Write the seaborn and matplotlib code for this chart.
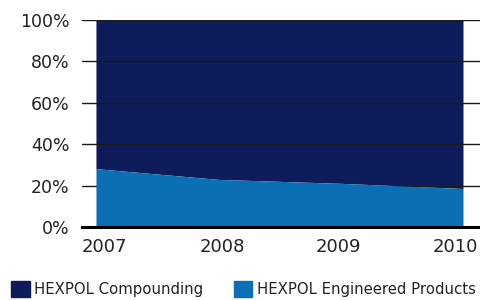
import numpy as np
import pandas as pd
import matplotlib
matplotlib.use("Agg")
import matplotlib.pyplot as plt
import matplotlib.patches as mpatches
from matplotlib.transforms import ScaledTranslation
import seaborn as sns

# Data (share of sales, %)
years = [2007, 2008, 2009, 2010]
engineered = [28.2, 23.0, 21.1, 18.6]
compounding = [100 - v for v in engineered]
series_names = ["HEXPOL Compounding", "HEXPOL Engineered Products"]
colors = ["#0e1c5b", "#0a6fb3"]

df = pd.DataFrame({"year": years, "Engineered": engineered, "Compounding": compounding})

sns.set_style("white")
plt.rcParams["font.family"] = ["DejaVu Sans"]

fig = plt.figure(figsize=(4.81, 3.0), dpi=100)
ax = fig.add_axes([82 / 481, 1 - 227 / 300, (480 - 82) / 481, (227 - 20) / 300])

polys = ax.stackplot(df["year"], df["Engineered"], df["Compounding"],
                     colors=[colors[1], colors[0]], linewidth=0)
# grid shows over the dark area but not over the light one
polys[1].set_zorder(1)
polys[0].set_zorder(3)

ax.set_xlim(2006.886, 2010.139)
ax.set_ylim(0, 100)
ax.set_yticks(np.arange(0, 101, 20))
ax.set_yticklabels([f"{v}%" for v in range(0, 101, 20)], fontsize=12.5, color="#222222")
ax.set_xticks(years)
ax.set_xticklabels([str(y) for y in years], fontsize=13, color="#222222")
ax.tick_params(axis="y", length=0, pad=9)
ax.tick_params(axis="x", length=0, pad=8)

# nudge year labels like in the original layout
for lab, dx in zip(ax.get_xticklabels(), [8, 4, -2, -8]):
    lab.set_transform(lab.get_transform() + ScaledTranslation(dx / 100, 0, fig.dpi_scale_trans))

ax.yaxis.grid(True, color="#1a1a1a", linewidth=1.0)
ax.set_axisbelow(False)
for side in ["top", "right", "left"]:
    ax.spines[side].set_visible(False)
ax.spines["bottom"].set_color("black")
ax.spines["bottom"].set_linewidth(2.2)
ax.spines["bottom"].set_zorder(5)

handles = [mpatches.Patch(color=c, label=n) for c, n in zip(colors, series_names)]
fig.legend(handles=handles, loc="lower left", bbox_to_anchor=(-0.005, -0.035),
           ncol=2, frameon=False, fontsize=10.7, handlelength=1.25, handleheight=1.25,
           handletextpad=0.3, columnspacing=2.05, labelcolor="#222222")

fig.savefig("out.png", dpi=100)
